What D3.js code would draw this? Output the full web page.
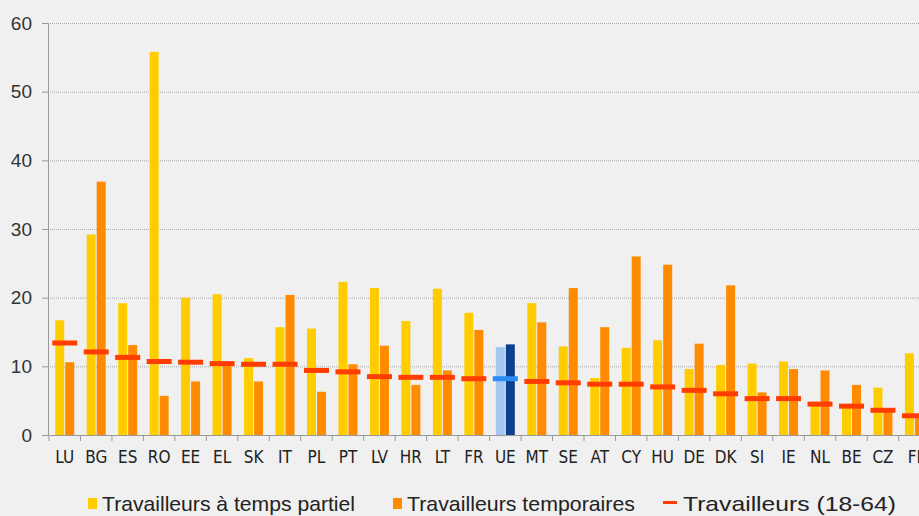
<!DOCTYPE html>
<html>
<head>
<meta charset="utf-8">
<script src="https://cdn.jsdelivr.net/npm/d3@7"></script>
<style>
  body { margin: 0; background: #f0f0f0; }
  svg { display: block; }
</style>
</head>
<body>
<svg id="chart" width="919" height="516"></svg>
<script>
// categories and values
var countries = ['LU', 'BG', 'ES', 'RO', 'EE', 'EL', 'SK', 'IT', 'PL', 'PT', 'LV', 'HR', 'LT', 'FR',
    'UE', 'MT', 'SE', 'AT', 'CY', 'HU', 'DE', 'DK', 'SI', 'IE', 'NL', 'BE', 'CZ', 'FI'];
var partTime = [16.7, 29.2, 19.2, 55.8, 20.0, 20.5, 11.2, 15.7, 15.5, 22.3, 21.4, 16.6, 21.3, 17.8,
    12.8, 19.2, 12.9, 8.3, 12.7, 13.8, 9.6, 10.2, 10.4, 10.7, 4.3, 4.0, 6.9, 11.9];
var temporary = [10.6, 36.9, 13.1, 5.7, 7.8, 10.3, 7.8, 20.4, 6.3, 10.3, 13.0, 7.3, 9.4, 15.3,
    13.2, 16.4, 21.4, 15.7, 26.0, 24.8, 13.3, 21.8, 6.2, 9.6, 9.4, 7.3, 3.4, 2.6];
var workers = [13.4, 12.1, 11.3, 10.7, 10.6, 10.4, 10.3, 10.3, 9.4, 9.2, 8.5, 8.4, 8.4, 8.2,
    8.2, 7.8, 7.6, 7.4, 7.4, 7.0, 6.5, 6.0, 5.3, 5.3, 4.5, 4.2, 3.6, 2.8];
var yTicks = [0, 10, 20, 30, 40, 50, 60];
var legendLabels = ['Travailleurs à temps partiel', 'Travailleurs temporaires', 'Travailleurs (18-64)'];

var svg = d3.select('#chart');
var x0 = 49, bw = 31.47;

var x = d3.scaleBand()
    .domain(countries)
    .range([x0, x0 + countries.length * bw])
    .padding(0);

var y = d3.scaleLinear()
    .domain([0, 60])
    .range([435, 23]);

/* grid lines */
svg.append('g')
    .selectAll('line')
    .data(yTicks.filter(function(d) { return d > 0; }))
    .enter()
    .append('line')
    .attr('x1', 48)
    .attr('x2', 919)
    .attr('y1', function(d) { return y(d) + 0.5; })
    .attr('y2', function(d) { return y(d) + 0.5; })
    .attr('stroke', '#a8a8a8')
    .attr('stroke-dasharray', '1,1');

var isEU = function(c) { return c === 'UE'; };

/* part time bars */
svg.append('g')
    .selectAll('rect')
    .data(countries)
    .enter()
    .append('rect')
    .attr('x', function(d) { return x(d) + x.bandwidth() / 2 - 9.5; })
    .attr('width', 9)
    .attr('y', function(d, i) { return y(partTime[i]); })
    .attr('height', function(d, i) { return y(0) - y(partTime[i]); })
    .attr('fill', function(d) { return isEU(d) ? '#a3c8f2' : '#ffcc00'; });

/* temporary bars */
svg.append('g')
    .selectAll('rect')
    .data(countries)
    .enter()
    .append('rect')
    .attr('x', function(d) { return x(d) + x.bandwidth() / 2 + 0.5; })
    .attr('width', 9)
    .attr('y', function(d, i) { return y(temporary[i]); })
    .attr('height', function(d, i) { return y(0) - y(temporary[i]); })
    .attr('fill', function(d) { return isEU(d) ? '#0c3f8e' : '#ff8c00'; });

/* workers dashes */
svg.append('g')
    .selectAll('line')
    .data(countries)
    .enter()
    .append('line')
    .attr('x1', function(d) { return x(d) + x.bandwidth() / 2 - 12.5; })
    .attr('x2', function(d) { return x(d) + x.bandwidth() / 2 + 12.5; })
    .attr('y1', function(d, i) { return y(workers[i]); })
    .attr('y2', function(d, i) { return y(workers[i]); })
    .attr('stroke', function(d) { return isEU(d) ? '#2a8cf5' : '#ff3d00'; })
    .attr('stroke-width', 5);

/* y axis */
var yAxis = svg.append('g')
    .attr('transform', 'translate(48,0)')
    .call(d3.axisLeft(y).tickValues(yTicks).tickSize(6).tickPadding(10));
yAxis.select('.domain').attr('stroke', '#999');
yAxis.selectAll('.tick line').attr('stroke', '#999');
yAxis.selectAll('text')
    .attr('fill', '#333')
    .style('font-family', '"Liberation Sans", Arial, sans-serif')
    .style('font-size', '19px');

/* x axis */
var xAxis = svg.append('g')
    .attr('transform', 'translate(0,435)')
    .call(d3.axisBottom(x).tickSize(0).tickPadding(16));
xAxis.select('.domain').attr('stroke', '#999');
xAxis.selectAll('text')
    .attr('fill', '#222')
    .style('font-family', '"Liberation Sans Narrow", "DejaVu Sans Condensed", sans-serif')
    .style('font-size', '17px');

svg.append('g')
    .selectAll('line')
    .data(d3.range(countries.length + 1))
    .enter()
    .append('line')
    .attr('x1', function(i) { return x0 + i * bw; })
    .attr('x2', function(i) { return x0 + i * bw; })
    .attr('y1', 435)
    .attr('y2', 441)
    .attr('stroke', '#999');

/* legend */
var legend = svg.append('g')
    .style('font-family', '"Liberation Sans", Arial, sans-serif')
    .style('font-size', '21px')
    .attr('fill', '#222');

var items = [
    { x: 88, kind: 'box', color: '#ffcc00', width: 253 },
    { x: 393, kind: 'box', color: '#ff8c00', width: 228 },
    { x: 663, kind: 'dash', color: '#ff3d00', width: 213 }
];

items.forEach(function(it, i) {
    if (it.kind === 'box') {
        legend.append('rect')
            .attr('x', it.x)
            .attr('y', 498)
            .attr('width', 9)
            .attr('height', 11)
            .attr('fill', it.color);
    } else {
        legend.append('rect')
            .attr('x', it.x)
            .attr('y', 501)
            .attr('width', 14)
            .attr('height', 3)
            .attr('fill', it.color);
    }
    legend.append('text')
        .attr('x', it.x + (it.kind === 'box' ? 14 : 20))
        .attr('y', 511)
        .attr('textLength', it.width)
        .attr('lengthAdjust', 'spacingAndGlyphs')
        .text(legendLabels[i]);
});
</script>
</body>
</html>
